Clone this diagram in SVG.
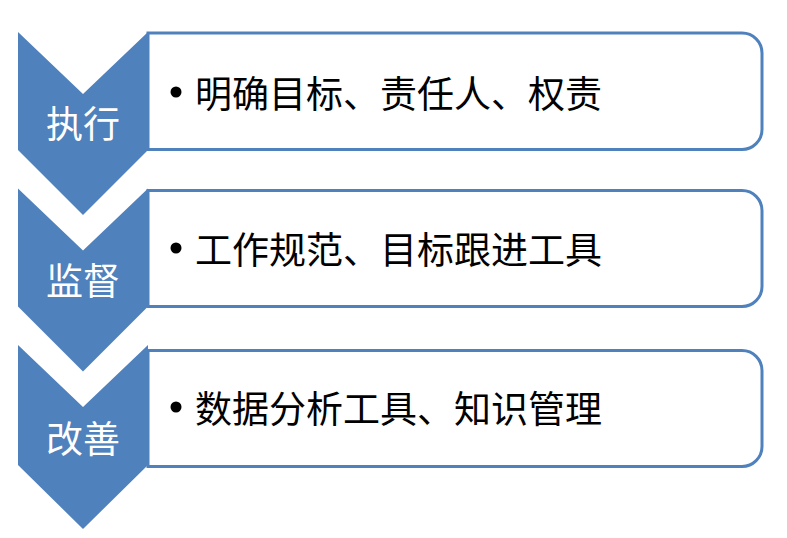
<svg xmlns="http://www.w3.org/2000/svg" width="787" height="538" viewBox="0 0 787 538">
<style>
.box{fill:#ffffff;stroke:#4f81bd;stroke-width:3}
.chev{fill:#4f81bd}
.lbl{font-family:"Noto Sans CJK SC","Liberation Sans",sans-serif;font-size:37px;fill:#ffffff;text-anchor:middle;dominant-baseline:central}
.txt{font-family:"Noto Sans CJK SC","Liberation Sans",sans-serif;font-size:37px;fill:#000000;dominant-baseline:central}
</style>
<rect width="787" height="538" fill="#ffffff"/>
<g id="connectors"></g>
<g id="node1">
<path class="box" d="M148,33 H742 A20,20 0 0 1 762,53 V129.5 A20,20 0 0 1 742,149.5 H148 Z"/>
<polygon class="chev" points="18,32 83,94 148,32 148,150 83,215 18,150"/>
<text class="lbl" x="83" y="122">执行</text>
<circle cx="176" cy="92" r="5.5" fill="#000"/>
<text class="txt" x="195" y="92">明确目标、责任人、权责</text>
</g>
<g id="node2">
<path class="box" d="M148,190.5 H742 A20,20 0 0 1 762,210.5 V286.5 A20,20 0 0 1 742,306.5 H148 Z"/>
<polygon class="chev" points="18,188.5 83,250.5 148,188.5 148,306.5 83,371.5 18,306.5"/>
<text class="lbl" x="83" y="279">监督</text>
<circle cx="176" cy="248" r="5.5" fill="#000"/>
<text class="txt" x="195" y="248">工作规范、目标跟进工具</text>
</g>
<g id="node3">
<path class="box" d="M148,350.5 H742 A20,20 0 0 1 762,370.5 V446.5 A20,20 0 0 1 742,466.5 H148 Z"/>
<polygon class="chev" points="18,345 83,407 148,345 148,465 83,529 18,465"/>
<text class="lbl" x="83" y="437">改善</text>
<circle cx="176" cy="407" r="5.5" fill="#000"/>
<text class="txt" x="195" y="407">数据分析工具、知识管理</text>
</g>
</svg>
